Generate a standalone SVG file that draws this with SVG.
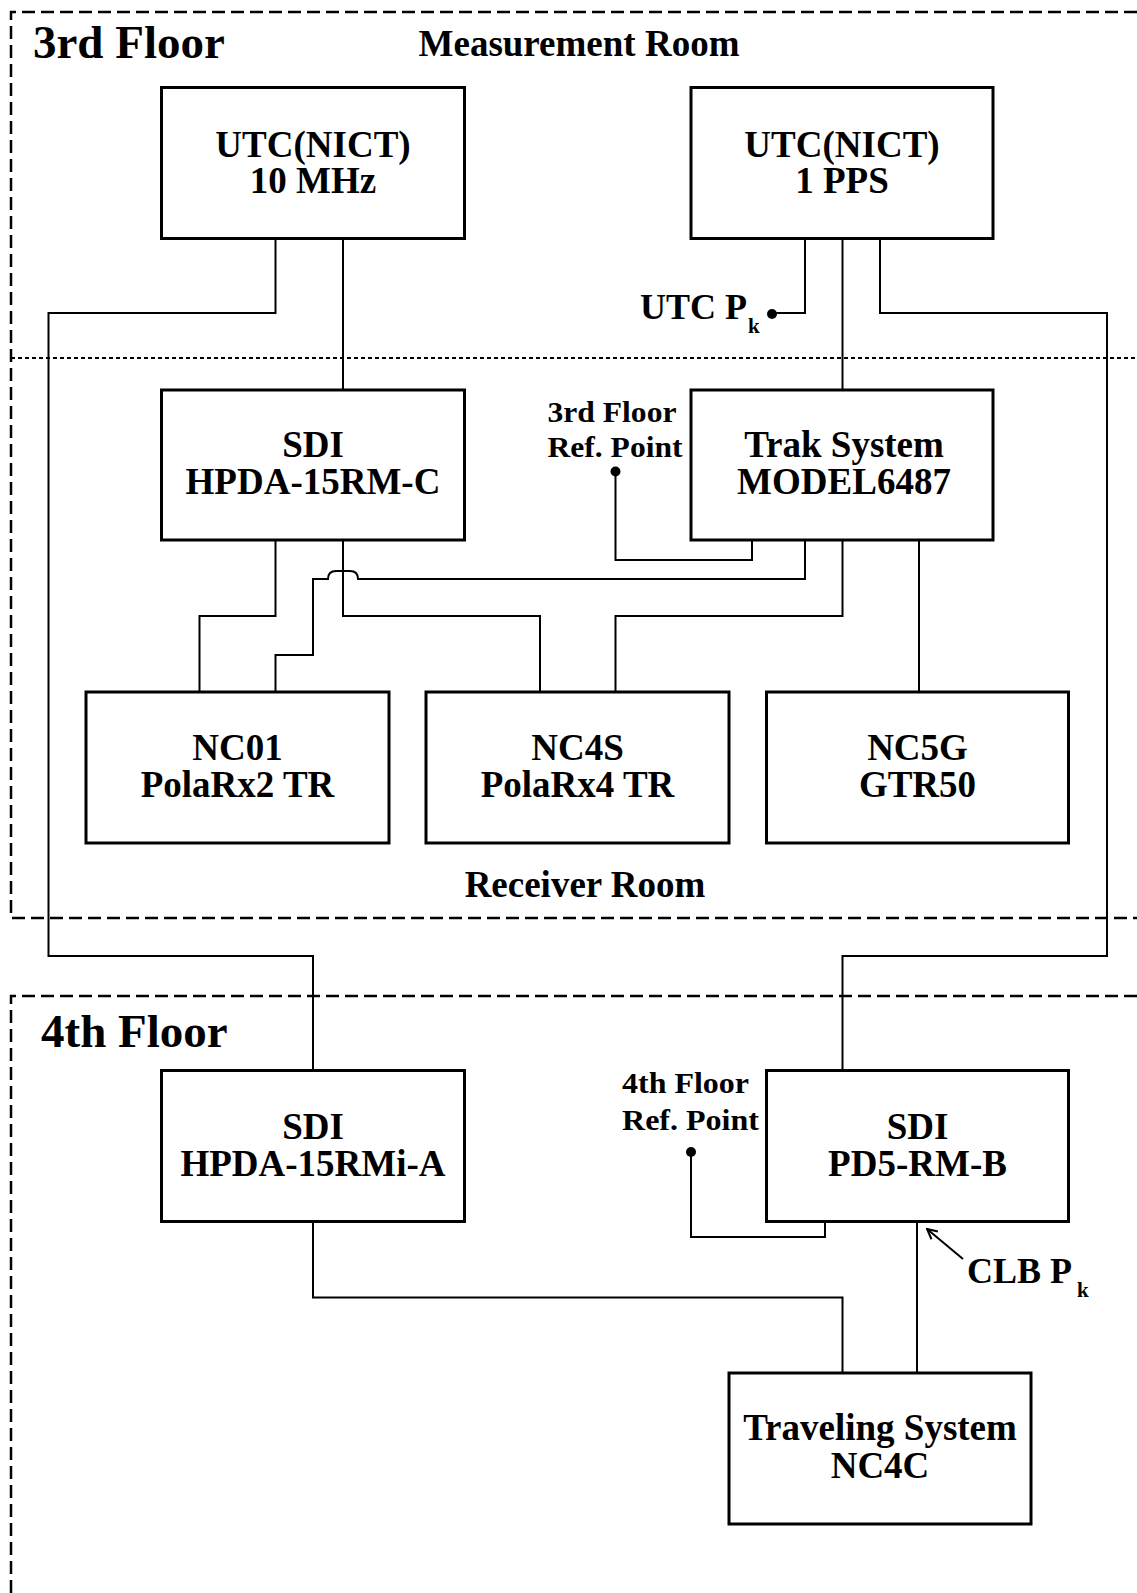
<svg xmlns="http://www.w3.org/2000/svg" width="1137" height="1593" viewBox="0 0 1137 1593">
<defs>
<style>
.box{fill:#fff;stroke:#000;stroke-width:3}
.ln{fill:none;stroke:#000;stroke-width:2}
.dash{fill:none;stroke:#000;stroke-width:2.5;stroke-dasharray:13 6}
.dot{fill:none;stroke:#000;stroke-width:2;stroke-dasharray:4 3}
text{font-family:"Liberation Serif","Times New Roman",serif;font-weight:bold;fill:#000}
.t{font-size:37px;text-anchor:middle}
.big{font-size:47px}
.sm{font-size:30px}
.sub{font-size:21px}
</style>
<marker id="ah" viewBox="0 0 12 12" refX="11" refY="6" markerWidth="12" markerHeight="12" markerUnits="userSpaceOnUse" orient="auto">
<path d="M1,1 L11,6 L1,11" fill="none" stroke="#000" stroke-width="2"/>
</marker>
</defs>

<g id="floors">
<path class="dash" d="M1137,12 H11 V918 H1137"/>
<path class="dot" d="M11,358 H1137"/>
<path class="dash" d="M1137,996 H11 V1593"/>
<text class="big" x="33" y="58">3rd Floor</text>
<text class="t" x="579" y="56">Measurement Room</text>
<text class="t" x="585" y="897">Receiver Room</text>
<text class="big" x="41" y="1047">4th Floor</text>
</g>

<g id="connectors">
<path class="ln" d="M275.5,239 V313 H48.5 V956 H313 V1070"/>
<path class="ln" d="M343,239 V390"/>
<path class="ln" d="M805,239 V313 H772"/>
<path class="ln" d="M842.5,239 V390"/>
<path class="ln" d="M880,239 V313 H1107 V956 H842.5 V1070"/>
<path class="ln" d="M275.5,540 V616 H199.5 V692"/>
<path class="ln" d="M343,540 V616 H540 V692"/>
<path class="ln" d="M805,540 V579 H358 Q358,571 350,571 H336 Q328,571 328,579 H313 V655 H275.5 V692"/>
<path class="ln" d="M752,540 V560 H615.5 V472"/>
<path class="ln" d="M842.5,540 V616 H615.5 V692"/>
<path class="ln" d="M919,540 V692"/>
<path class="ln" d="M313,1221 V1297.5 H842.5 V1373"/>
<path class="ln" d="M917,1221 V1373"/>
<path class="ln" d="M825,1221 V1237 H691 V1152"/>
<path class="ln" d="M963,1259 L927,1229" marker-end="url(#ah)"/>
<circle cx="772" cy="314" r="5" fill="#000"/>
<circle cx="615.5" cy="471.5" r="5" fill="#000"/>
<circle cx="691" cy="1152" r="5" fill="#000"/>
</g>

<g id="labels">
<text x="640" y="319" style="font-size:36px">UTC P</text>
<text class="sub" x="748" y="333">k</text>
<text class="sm" x="547.5" y="421.5" textLength="129" lengthAdjust="spacingAndGlyphs">3rd Floor</text>
<text class="sm" x="547.5" y="457" textLength="135" lengthAdjust="spacingAndGlyphs">Ref. Point</text>
<text class="sm" x="622" y="1093" textLength="127" lengthAdjust="spacingAndGlyphs">4th Floor</text>
<text class="sm" x="622" y="1130" textLength="137" lengthAdjust="spacingAndGlyphs">Ref. Point</text>
<text x="967" y="1283" style="font-size:36px">CLB P</text>
<text class="sub" x="1077" y="1297">k</text>
</g>

<g id="utc10">
<rect class="box" x="161.5" y="87.5" width="303" height="151"/>
<text class="t" x="313" y="157">UTC(NICT)</text>
<text class="t" x="313" y="193">10 MHz</text>
</g>
<g id="utcpps">
<rect class="box" x="691" y="87.5" width="302" height="151"/>
<text class="t" x="842" y="157">UTC(NICT)</text>
<text class="t" x="842" y="193">1 PPS</text>
</g>
<g id="sdi-c">
<rect class="box" x="161.5" y="390" width="303" height="150"/>
<text class="t" x="313" y="457">SDI</text>
<text class="t" x="313" y="494">HPDA-15RM-C</text>
</g>
<g id="trak">
<rect class="box" x="691" y="390" width="302" height="150"/>
<text class="t" x="844" y="457">Trak System</text>
<text class="t" x="844" y="494">MODEL6487</text>
</g>
<g id="nc01">
<rect class="box" x="86" y="692" width="303" height="151"/>
<text class="t" x="237.5" y="760">NC01</text>
<text class="t" x="237.5" y="797">PolaRx2 TR</text>
</g>
<g id="nc4s">
<rect class="box" x="426" y="692" width="303" height="151"/>
<text class="t" x="577.5" y="760">NC4S</text>
<text class="t" x="577.5" y="797">PolaRx4 TR</text>
</g>
<g id="nc5g">
<rect class="box" x="766.5" y="692" width="302" height="151"/>
<text class="t" x="917.5" y="760">NC5G</text>
<text class="t" x="917.5" y="797">GTR50</text>
</g>
<g id="sdi-a">
<rect class="box" x="161.5" y="1070.5" width="303" height="151"/>
<text class="t" x="313" y="1139">SDI</text>
<text class="t" x="313" y="1176">HPDA-15RMi-A</text>
</g>
<g id="pd5">
<rect class="box" x="766.5" y="1070.5" width="302" height="151"/>
<text class="t" x="917.5" y="1139">SDI</text>
<text class="t" x="917.5" y="1176">PD5-RM-B</text>
</g>
<g id="traveling">
<rect class="box" x="729" y="1373" width="302" height="151"/>
<text class="t" x="880" y="1440">Traveling System</text>
<text class="t" x="880" y="1478">NC4C</text>
</g>
</svg>
